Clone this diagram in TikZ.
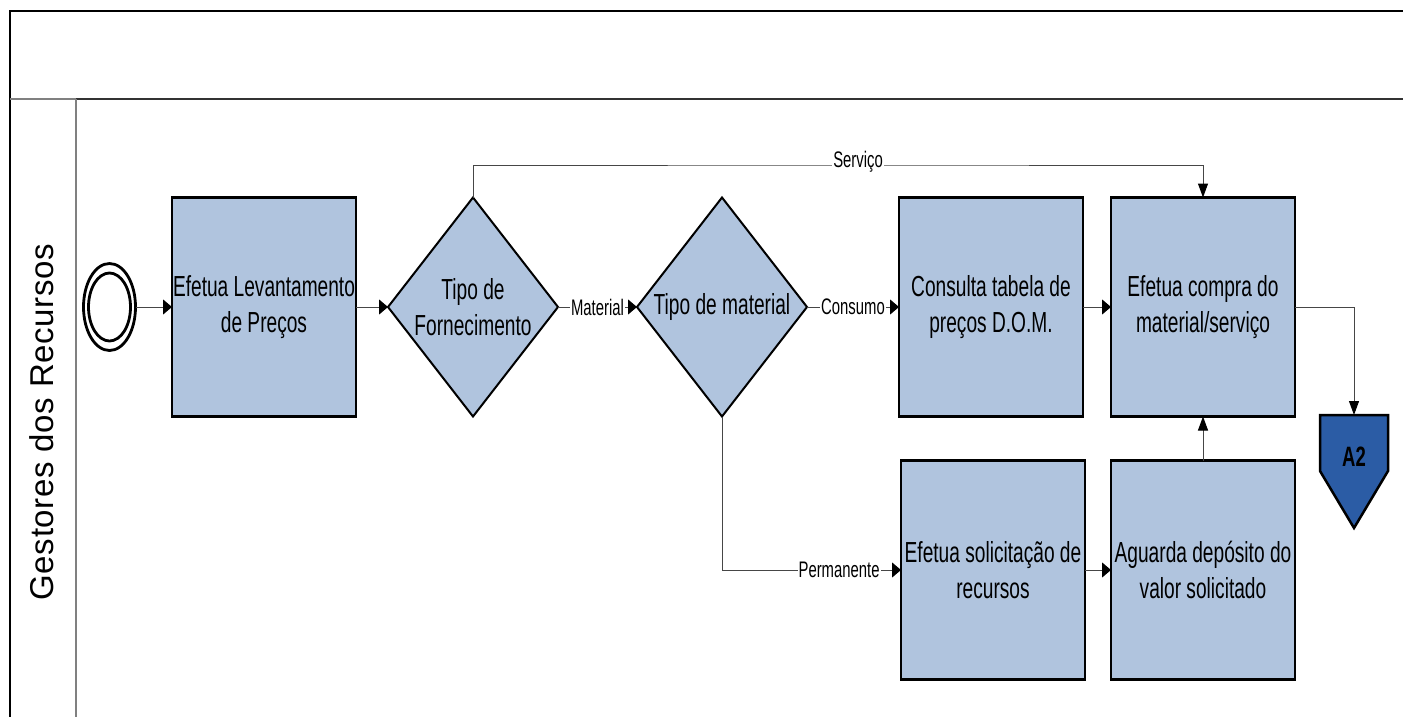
\documentclass[tikz,border=0pt]{standalone}
\usepackage{fontspec}
\setmainfont[FakeStretch=0.66]{Liberation Sans}
\newfontfamily\lanefont[LetterSpace=2]{Liberation Sans}
\usetikzlibrary{shapes.geometric,arrows.meta}
\definecolor{boxfill}{RGB}{176,196,222}
\definecolor{afill}{RGB}{43,92,165}
\definecolor{linegray}{RGB}{70,70,70}
\definecolor{framegray}{RGB}{128,128,128}
\begin{document}
\begin{tikzpicture}[x=1pt,y=-1pt,
  task/.style={draw=black, line width=2.5pt, fill=boxfill, minimum width=184pt, minimum height=219pt,
    inner sep=0pt, outer sep=0pt, align=center, font=\fontsize{29}{36}\selectfont},
  gateway/.style={diamond, draw=black, line width=2pt, fill=boxfill, minimum width=170pt,
    minimum height=219pt, inner sep=0pt, outer sep=0pt},
  gwtext/.style={align=center, font=\fontsize{29}{36}\selectfont},
  flowh/.style={draw=linegray, line width=1pt, -{Triangle[length=9pt,width=15pt,color=black]}},
  flowv/.style={draw=linegray, line width=1pt, -{Triangle[length=14pt,width=10pt,color=black]}},
  lbl/.style={fill=white, inner sep=1pt, font=\fontsize{22.5}{25}\selectfont},
  startev/.style={ellipse, draw=black, line width=2.8pt, inner sep=0pt, outer sep=0pt},
]
\useasboundingbox (0,0) rectangle (1403,717);
% frame
\draw[black, line width=2pt] (1403,11) -- (10,11) -- (10,717);
\draw[framegray, line width=2pt] (10,99) -- (76,99);
\draw[black!80, line width=2pt] (76,99) -- (1403,99);
\draw[framegray, line width=2pt] (76,99) -- (76,717);
\node[rotate=90, font=\lanefont\fontsize{33}{36}\selectfont] (lane) at (42,422) {Gestores dos Recursos};

% start event
\node[startev, minimum width=52pt, minimum height=87pt] (start) at (109.5,307) {};
\node[startev, minimum width=42pt, minimum height=68pt] (startin) at (109.5,307) {};

% tasks and gateways
\node[task] (levant) at (264,307) {Efetua Levantamento\\de Preços};
\node[gateway] (tf) at (473,307) {};
\node[gwtext] (tftext) at (473,307) {Tipo de\\Fornecimento};
\node[gateway] (tm) at (722,307) {};
\node[gwtext] (tmtext) at (722,307) {Tipo de material};
\node[task] (consulta) at (991,307) {Consulta tabela de\\preços D.O.M.};
\node[task] (compra) at (1203,307) {Efetua compra do\\material/serviço};
\node[task] (solic) at (993,570) {Efetua solicitação de\\recursos};
\node[task] (aguarda) at (1203,570) {Aguarda depósito do\\valor solicitado};

% off-page connector A2
\coordinate (a2top) at (1354,415);
\draw[black, line width=2.5pt, fill=afill, line join=miter]
  (1320,415) -- (1388,415) -- (1388,471) -- (1354,528) -- (1320,471) -- cycle;
\node[font=\bfseries\fontsize{28}{32}\selectfont] (a2) at (1354,457) {A2};

% flows
\draw[flowh] (start) -- (levant.west);
\draw[flowh] (levant.east) -- (tf.west);
\draw[flowh] (tf.east) -- node[lbl] (lmat) {Material} (tm.west);
\draw[flowh] (tm.east) -- node[lbl] (lcons) {Consumo} (consulta.west);
\draw[flowh] (consulta.east) -- (compra.west);
\coordinate (sv) at (858,165);
\draw[flowv] (tf.north) |- (sv) -| (compra.north);
\node[lbl] (lserv) at (858,162) {Serviço};
\draw[flowh] (tm.south) |- node[lbl, pos=0.827] (lperm) {Permanente} (solic.west);
\draw[flowh] (solic.east) -- (aguarda.west);
\draw[flowv] (aguarda.north) -- (compra.south);
\draw[flowv] (compra.east) -| (a2top);
\end{tikzpicture}
\end{document}
